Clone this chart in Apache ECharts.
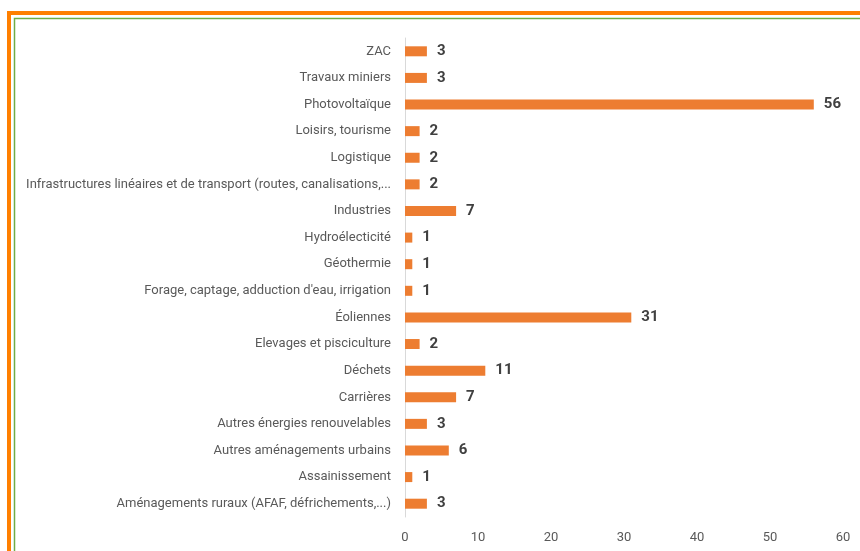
<!DOCTYPE html>
<html><head><meta charset="utf-8">
<script src="https://cdn.jsdelivr.net/npm/echarts@6/dist/echarts.min.js"></script>
<style>html,body{margin:0;padding:0;background:#fff}#c{width:860px;height:551px}</style>
</head><body><div id="c"></div>
<script>
const categories = ["ZAC","Travaux miniers","Photovoltaïque","Loisirs, tourisme","Logistique","Infrastructures linéaires et de transport (routes, canalisations,...","Industries","Hydroélecticité","Géothermie","Forage, captage, adduction d'eau, irrigation","Éoliennes","Elevages et pisciculture","Déchets","Carrières","Autres énergies renouvelables","Autres aménagements urbains","Assainissement","Aménagements ruraux (AFAF, défrichements,...)"];
const values = [3,3,56,2,2,2,7,1,1,1,31,2,11,7,3,6,1,3];
const xTicks = [0,10,20,30,40,50,60];

const chart = echarts.init(document.getElementById('c'));
chart.setOption({
  animation:false,
  graphic:[
    {type:'rect',shape:{x:9,y:13,width:900,height:600},style:{fill:'none',stroke:'#FF7F00',lineWidth:4},silent:true},
    {type:'rect',shape:{x:14.5,y:18.5,width:900,height:600},style:{fill:'none',stroke:'#70AD47',lineWidth:1.5},silent:true}
  ],
  grid:{left:405,right:17,top:38,bottom:34,containLabel:false},
  xAxis:{type:'value',min:0,max:60,interval:10,
    axisLine:{show:false},axisTick:{show:false},splitLine:{show:false},
    axisLabel:{color:'#595959',fontSize:13,fontFamily:'Roboto',margin:14,
      formatter:v=>xTicks.includes(v)?String(v):''}},
  yAxis:{type:'category',data:categories,inverse:true,
    axisLine:{show:true,lineStyle:{color:'#D9D9D9',width:1}},axisTick:{show:false},
    axisLabel:{color:'#595959',fontSize:13,fontFamily:'Roboto',margin:14}},
  series:[{type:'bar',data:values,barWidth:10,itemStyle:{color:'#ED7D31'},
    label:{show:true,position:'right',distance:10,color:'#404040',fontWeight:'bold',fontSize:15,fontFamily:'Roboto'}}]
});
</script></body></html>
